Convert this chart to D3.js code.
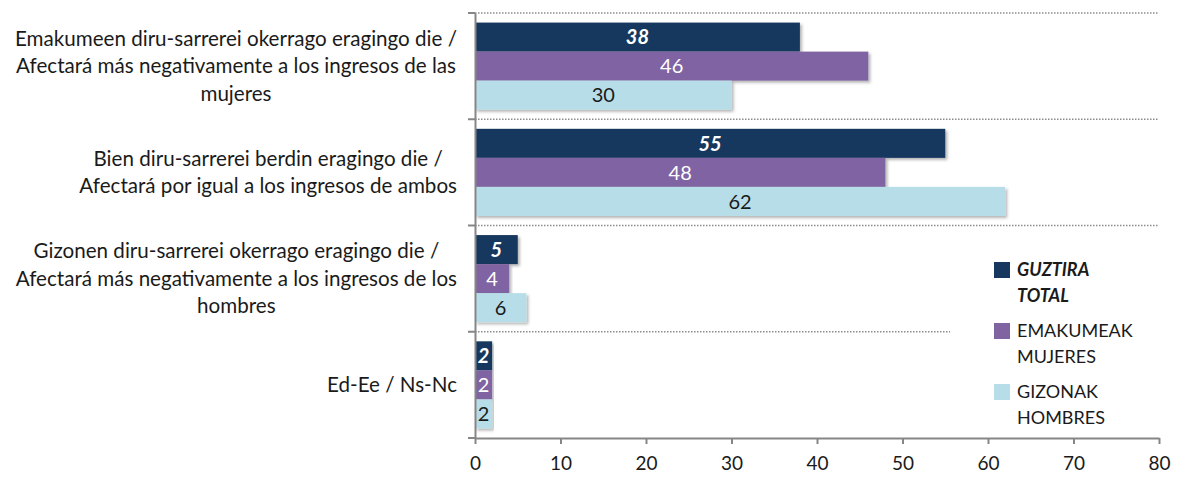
<!DOCTYPE html>
<html><head><meta charset="utf-8">
<script src="https://cdn.jsdelivr.net/npm/d3@7"></script>
<style>body{margin:0;background:#fff}svg{display:block}text{font-family:Lato,sans-serif}</style>
</head><body><svg id="c" width="1180" height="477"></svg>
<script>
const categories = [
  ["Emakumeen diru-sarrerei okerrago eragingo die /", "Afectará más negativamente a los ingresos de las", "mujeres"],
  ["Bien diru-sarrerei berdin eragingo die /", "Afectará por igual a los ingresos de ambos"],
  ["Gizonen diru-sarrerei okerrago eragingo die /", "Afectará más negativamente a los ingresos de los", "hombres"],
  ["Ed-Ee / Ns-Nc"]
];
const seriesNames = [["GUZTIRA", "TOTAL"], ["EMAKUMEAK", "MUJERES"], ["GIZONAK", "HOMBRES"]];
const total = [38, 55, 5, 2];
const mujeres = [46, 48, 4, 2];
const hombres = [30, 62, 6, 2];
const xTicks = [0, 10, 20, 30, 40, 50, 60, 70, 80];

const colors = ["#17375E", "#8064A2", "#B7DEE8"];
const labelColors = ["#fff", "#fff", "#1a1a1a"];
const series = [total, mujeres, hombres];

const svg = d3.select("#c");
const defs = svg.append("defs");
const f = defs.append("filter").attr("id","sh").attr("x","-5%").attr("y","-20%").attr("width","115%").attr("height","160%");
f.append("feDropShadow").attr("dx",2).attr("dy",2).attr("stdDeviation",1.5).attr("flood-color","#000").attr("flood-opacity",0.3);

const L = 475, R = 1159, T = 13, B = 438;
const x = d3.scaleLinear().domain([0, 80]).range([L, R]);
const y = d3.scaleBand().domain(d3.range(categories.length)).range([T, B]);
const inner = d3.scaleBand().domain([0,1,2]).range([0, y.bandwidth()]).paddingOuter(0.33).paddingInner(0);

// dotted separators
svg.append("g").selectAll("line").data(d3.range(categories.length)).join("line")
  .attr("x1", L).attr("x2", R).attr("y1", d => y(d)).attr("y2", d => y(d))
  .attr("stroke", "#8c8c8c").attr("stroke-width", 1.5).attr("stroke-dasharray", "1.5,1.5");

// bars
series.forEach((s, si) => {
  const g = svg.append("g");
  g.selectAll("rect").data(s).join("rect")
    .attr("x", x(0)).attr("y", (d, i) => y(i) + inner(si))
    .attr("width", d => x(d) - x(0)).attr("height", inner.bandwidth())
    .attr("fill", colors[si]).attr("filter", "url(#sh)");
  g.selectAll("text").data(s).join("text")
    .attr("x", d => (x(d) + x(0)) / 2).attr("y", (d, i) => y(i) + inner(si) + inner.bandwidth() / 2)
    .attr("dy", "0.36em").attr("text-anchor", "middle")
    .attr("fill", labelColors[si]).style("font-size", "20px")
    .style("font-weight", si === 0 ? "bold" : "normal").style("font-style", si === 0 ? "italic" : "normal")
    .text(d => d);
});

// axes
const xa = svg.append("g").attr("transform", `translate(0,${B})`)
  .call(d3.axisBottom(x).tickValues(xTicks).tickSize(6).tickSizeOuter(0).tickPadding(13));
xa.select(".domain").attr("stroke", "#868686").attr("stroke-width", 2);
xa.selectAll(".tick line").attr("stroke", "#868686").attr("stroke-width", 2);
xa.selectAll(".tick text").attr("fill", "#1a1a1a").style("font-size", "19px").style("font-family", "Lato");

const ya = svg.append("g").attr("transform", `translate(${L},0)`)
  .call(d3.axisLeft(y).tickValues([]).tickSizeOuter(0));
ya.select(".domain").attr("stroke", "#868686").attr("stroke-width", 2);
svg.append("g").selectAll("line").data(d3.range(categories.length + 1)).join("line")
  .attr("x1", L - 7).attr("x2", L).attr("y1", d => d < categories.length ? y(d) : B).attr("y2", d => d < categories.length ? y(d) : B)
  .attr("stroke", "#868686").attr("stroke-width", 2);

// category labels
const lh = 27.5;
categories.forEach((lines, i) => {
  const g = svg.append("g");
  const cy = y(i) + y.bandwidth() / 2;
  const t = g.selectAll("text").data(lines).join("text")
    .attr("y", (d, k) => cy + (k - (lines.length - 1) / 2) * lh).attr("dy", "0.35em")
    .attr("text-anchor", "middle").attr("fill", "#1a1a1a").style("font-size", "20.6px").text(d => d);
  const w = d3.max(t.nodes(), n => n.getComputedTextLength());
  t.attr("x", 457 - w / 2);
});

// legend
const lg = svg.append("g");
lg.append("rect").attr("x", 950).attr("y", 240).attr("width", 215).attr("height", 192).attr("fill", "#fff");
seriesNames.forEach((nm, i) => {
  const yy = 262 + i * 61;
  lg.append("rect").attr("x", 994).attr("y", yy).attr("width", 16).attr("height", 16).attr("fill", colors[i]);
  lg.selectAll(null).data(nm).join("text").attr("x", 1017).attr("y", (d, k) => yy + 8 + k * 26).attr("dy", "0.35em")
    .attr("fill", "#1a1a1a").style("font-size", "18px")
    .style("font-weight", i === 0 ? "bold" : "normal").style("font-style", i === 0 ? "italic" : "normal")
    .text(d => d);
});
</script></body></html>
